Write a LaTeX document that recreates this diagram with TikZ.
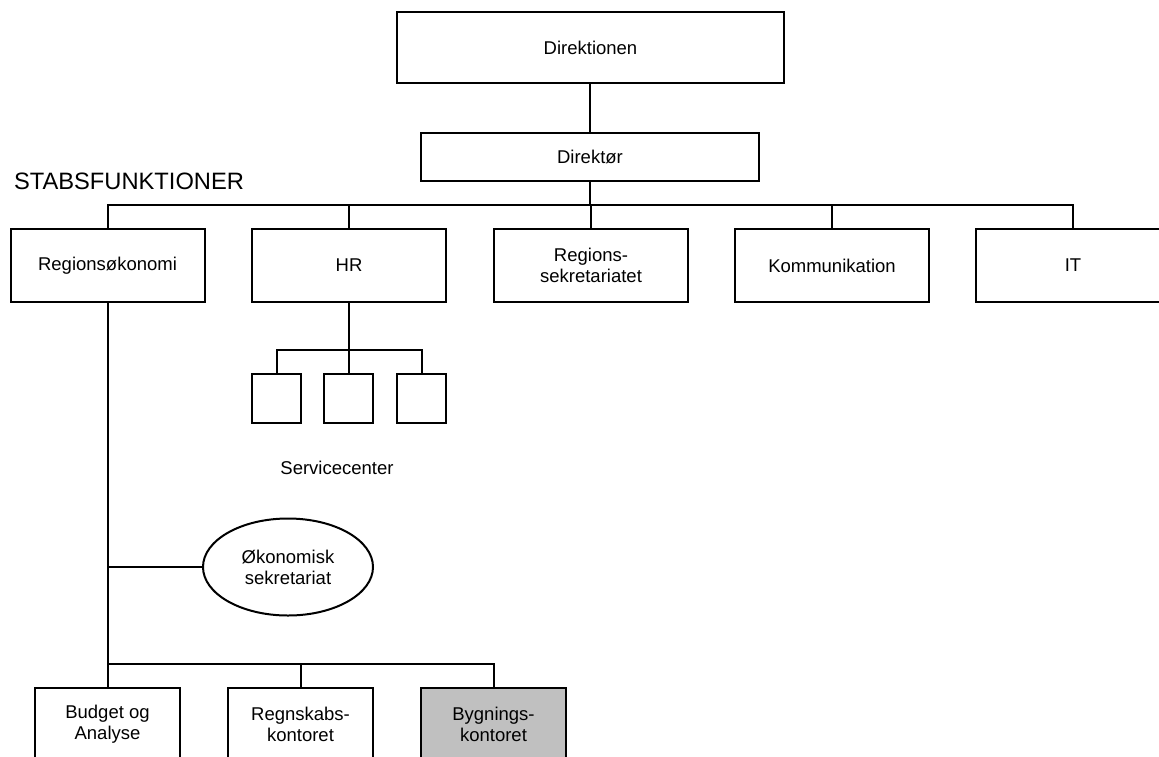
\documentclass[tikz,border=0pt]{standalone}
\usepackage{fontspec}
\setmainfont{Liberation Sans}
\usepackage{tikz}
\usetikzlibrary{shapes.geometric}
\definecolor{boxgrey}{HTML}{C0C0C0}

\begin{document}
\begin{tikzpicture}[x=1pt,y=-1pt,line width=2pt,
    unit/.style={draw,rectangle,inner sep=0pt,align=center,
        font=\fontsize{18.5}{21}\selectfont},
    staff/.style={unit,minimum width=194pt,minimum height=73pt},
    office/.style={unit,minimum width=145pt,minimum height=73pt},
    small/.style={draw,rectangle,minimum width=49pt,minimum height=49pt,inner sep=0pt}]
    \useasboundingbox (0,0) rectangle (1159,756);
    \clip (0,0) rectangle (1159,756);
    % Top
    \node[unit,minimum width=387pt,minimum height=71pt] (direktionen) at (590.5,47.5) {Direktionen};
    \node[unit,minimum width=338pt,minimum height=48pt] (direktor) at (590,157) {Direktør};
    \draw (direktionen.south) -- (direktor.south |- direktionen.south) -- (direktor.north);
    % Staff row
    \node[anchor=west,inner sep=0pt,font=\fontsize{23.7}{26}\selectfont] (stab) at (13,181) {STABSFUNKTIONER};
    \node[staff] (okonomi) at (107.5,265.5) {Regionsøkonomi};
    \node[staff] (hr) at (349,265.5) {HR};
    \node[staff] (sekr) at (591,265.5) {Regions-\\sekretariatet};
    \node[staff] (komm) at (832,265.5) {Kommunikation};
    \node[staff] (it) at (1073,265.5) {IT};
    \coordinate (stabbus) at (590,205);
    \draw (direktor.south) -- (stabbus);
    \foreach \n in {okonomi,hr,sekr,komm,it}
        \draw (stabbus) -| (\n.north);
    % Servicecenter
    \node[small] (sc1) at (276.5,398.5) {};
    \node[small] (sc2) at (348.5,398.5) {};
    \node[small] (sc3) at (421.5,398.5) {};
    \coordinate (hrbus) at (349,350);
    \draw (hr.south) -- (hrbus);
    \foreach \n in {sc1,sc2,sc3}
        \draw (hrbus) -| (\n.north);
    \node[font=\fontsize{18.5}{21}\selectfont] (service) at (337,468) {Servicecenter};
    % Regionsøkonomi
    \node[draw,ellipse,minimum width=170pt,minimum height=97pt,inner sep=0pt,align=center,
        font=\fontsize{18.5}{21}\selectfont] (oksek) at (288,567) {Økonomisk\\sekretariat};
    \node[office] (budget) at (107.5,724.5) {Budget og\\Analyse};
    \node[office] (regnskab) at (300.5,724.5) {Regnskabs-\\kontoret};
    \node[office,fill=boxgrey] (bygning) at (493.5,724.5) {Bygnings-\\kontoret};
    \coordinate (okbus) at (107.5,664);
    \draw (okonomi.south) -- (okbus);
    \draw (okonomi.south |- oksek.west) -- (oksek.west);
    \foreach \n in {budget,regnskab,bygning}
        \draw (okbus) -| (\n.north);
\end{tikzpicture}
\end{document}
